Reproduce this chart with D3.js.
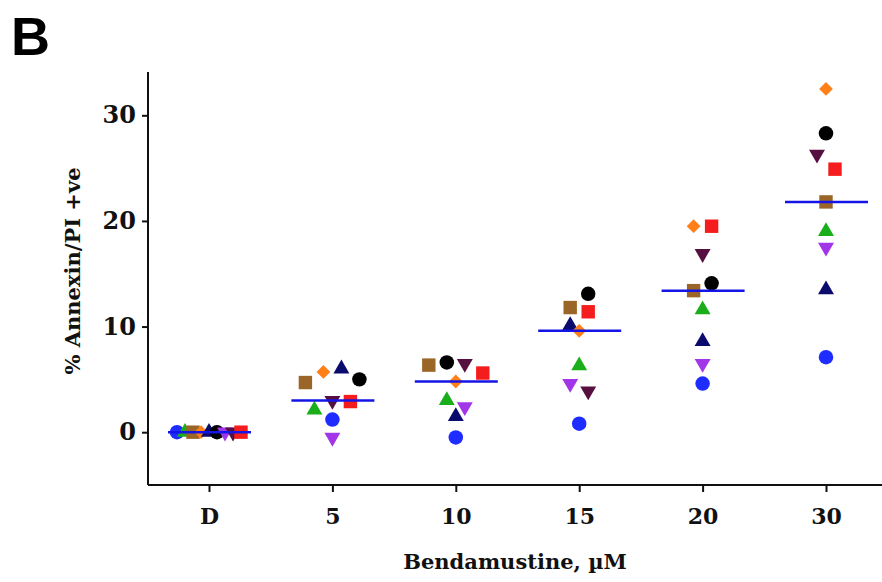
<!DOCTYPE html>
<html>
<head>
<meta charset="utf-8">
<script src="https://cdn.jsdelivr.net/npm/d3@7"></script>
<style>
  body { margin: 0; background: #fff; }
  .tick text { font-family: "DejaVu Serif", serif; font-weight: bold; }
</style>
</head>
<body>
<div id="chart"></div>
<script>
var svgWidth = 882;
var svgHeight = 582;

// doses on the x axis
var doses = ["D", "5", "10", "15", "20", "30"];
var yTicks = [0, 10, 20, 30];

// one array per sample, % Annexin/PI +ve at each dose
var blueCircle   = [0, 1.2, -0.5, 0.8, 4.6, 7.1];
var greenUp      = [0, 2.1, 3.0, 6.3, 11.6, 19.0];
var brownSquare  = [0, 4.7, 6.35, 11.8, 13.4, 21.8];
var orangeDiam   = [0, 5.7, 4.8, 9.6, 19.5, 32.5];
var navyUp       = [0, 6.0, 1.5, 10.1, 8.6, 13.5];
var blackCircle  = [0, 5.0, 6.6, 13.1, 14.1, 28.3];
var purpleDown   = [0, -0.5, 2.4, 4.6, 6.5, 17.5];
var maroonDown   = [0, 3.0, 6.5, 3.9, 16.9, 26.3];
var redSquare    = [0, 2.9, 5.6, 11.4, 19.5, 24.9];

var series = [
  { values: blueCircle,  color: "#1f2cff", shape: "circle" },
  { values: greenUp,     color: "#1aae1a", shape: "up" },
  { values: brownSquare, color: "#9a6526", shape: "square" },
  { values: orangeDiam,  color: "#ff7f19", shape: "diamond" },
  { values: navyUp,      color: "#0b0b6e", shape: "up" },
  { values: blackCircle, color: "#000000", shape: "circle" },
  { values: purpleDown,  color: "#a235e8", shape: "down" },
  { values: maroonDown,  color: "#551040", shape: "down" },
  { values: redSquare,   color: "#f41c1c", shape: "square" }
];

var svg = d3.select("#chart")
  .append("svg")
  .attr("width", svgWidth)
  .attr("height", svgHeight);

var xLeft = 148, xRight = 882, yTop = 72, yBottom = 485;

var xScale = d3.scalePoint()
  .domain(doses)
  .range([209, 826]);

var yScale = d3.scaleLinear()
  .domain([-5, 34.1])
  .range([yBottom, yTop]);

// axes
var bottomAxis = d3.axisBottom(xScale).tickSize(7).tickSizeOuter(0).tickPadding(16);
var leftAxis = d3.axisLeft(yScale).tickValues(yTicks).tickSize(6).tickSizeOuter(0).tickPadding(6);

var xAxis = svg.append("g")
  .attr("transform", `translate(0, ${yBottom})`)
  .call(bottomAxis);
xAxis.select(".domain").attr("d", `M${xLeft},0H${xRight}`);

var yAxis = svg.append("g")
  .attr("transform", `translate(${xLeft}, 0)`)
  .call(leftAxis);
yAxis.select(".domain").attr("d", `M0,${yTop}V${yBottom}`);

svg.selectAll(".domain, .tick line")
  .attr("stroke", "#111")
  .attr("stroke-width", 2);
xAxis.selectAll(".tick text").attr("font-size", 22).attr("fill", "#111");
yAxis.selectAll(".tick text").attr("font-size", 24).attr("fill", "#111");

// points with close values share a row and are spread sideways,
// ordered by sample within the row
var rowHeight = 15;
var points = [];
doses.forEach(function(dose, i) {
  var group = series.map(function(s, j) {
    return { dose: dose, value: s.values[i], s: s, order: j, y: yScale(s.values[i]) };
  });
  group.sort(function(a, b) { return a.y - b.y; });
  var rows = [];
  group.forEach(function(p) {
    var last = rows[rows.length - 1];
    if (last && p.y - last[0].y <= rowHeight) last.push(p);
    else rows.push([p]);
  });
  rows.forEach(function(row) {
    row.sort(function(a, b) { return a.order - b.order; });
    var n = row.length;
    var gap = n > 1 ? Math.min(18, 64 / (n - 1)) : 0;
    row.forEach(function(p, k) {
      p.dx = (k - (n - 1) / 2) * gap;
      points.push(p);
    });
  });
});

function symbolPath(shape) {
  if (shape === "circle") return d3.symbol(d3.symbolCircle, 165)();
  if (shape === "square") return d3.symbol(d3.symbolSquare, 180)();
  if (shape === "diamond") return d3.symbol(d3.symbolSquare, 95)();
  return d3.symbol(d3.symbolTriangle, 110)();
}

function symbolRotate(shape) {
  if (shape === "diamond") return 45;
  if (shape === "down") return 180;
  return 0;
}

svg.append("g")
  .selectAll("path")
  .data(points)
  .enter()
  .append("path")
  .attr("d", d => symbolPath(d.s.shape))
  .attr("transform", d => `translate(${xScale(d.dose) + d.dx}, ${d.y}) rotate(${symbolRotate(d.s.shape)})`)
  .attr("fill", d => d.s.color);

// median lines
var medians = doses.map(function(dose, i) {
  return { dose: dose, value: d3.median(series, s => s.values[i]) };
});

svg.append("g")
  .selectAll("line")
  .data(medians)
  .enter()
  .append("line")
  .attr("x1", d => xScale(d.dose) - 41)
  .attr("x2", d => xScale(d.dose) + 42)
  .attr("y1", d => yScale(d.value))
  .attr("y2", d => yScale(d.value))
  .attr("stroke", "#1414e6")
  .attr("stroke-width", 2.5);

// titles
svg.append("text")
  .attr("x", 515)
  .attr("y", 569)
  .attr("text-anchor", "middle")
  .attr("font-family", "DejaVu Serif, serif")
  .attr("font-weight", "bold")
  .attr("font-size", 21)
  .attr("fill", "#111")
  .text("Bendamustine, \u00b5M");

svg.append("text")
  .attr("transform", "translate(80, 271) rotate(-90)")
  .attr("text-anchor", "middle")
  .attr("font-family", "DejaVu Serif, serif")
  .attr("font-weight", "bold")
  .attr("font-size", 21)
  .attr("fill", "#111")
  .text("% Annexin/PI +ve");

svg.append("text")
  .attr("x", 11)
  .attr("y", 55)
  .attr("font-family", "Liberation Sans, Arial, sans-serif")
  .attr("font-weight", "bold")
  .attr("font-size", 54)
  .attr("fill", "#000")
  .text("B");
</script>
</body>
</html>
